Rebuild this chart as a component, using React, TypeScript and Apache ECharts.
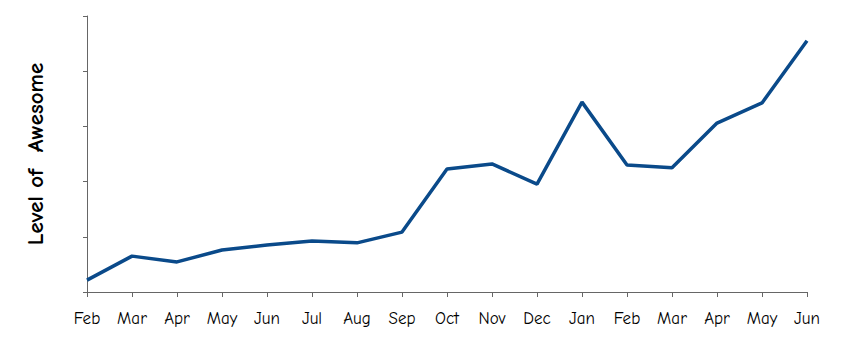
import React, { useEffect, useRef } from "react";
import * as echarts from "echarts";

const categories = ["Feb", "Mar", "Apr", "May", "Jun", "Jul", "Aug", "Sep", "Oct", "Nov", "Dec", "Jan", "Feb", "Mar", "Apr", "May", "Jun"];
const awesome = [4.3, 13, 10.9, 15.2, 17, 18.5, 17.8, 21.7, 44.6, 46.4, 39.1, 68.8, 46, 45, 61.2, 68.5, 91];
const yMin = 0;
const yMax = 100;
const yInterval = 20;

const FONT = "'Comic Sans MS', 'Comic Neue', 'DejaVu Sans', sans-serif";

export default function App() {
  const ref = useRef<HTMLDivElement>(null);
  useEffect(() => {
    if (!ref.current) return;
    const chart = echarts.init(ref.current, undefined, { renderer: "svg" });
    chart.setOption({
      animation: false,
      backgroundColor: "#ffffff",
      grid: { left: 87, right: 35, top: 16, bottom: 68 },
      xAxis: {
        type: "category",
        data: categories,
        boundaryGap: false,
        axisLine: { lineStyle: { color: "#666666", width: 1 } },
        axisTick: { alignWithLabel: true, length: 5, lineStyle: { color: "#666666" } },
        axisLabel: { color: "#000000", fontFamily: FONT, fontSize: 17, margin: 18, interval: 0 },
        splitLine: { show: false },
      },
      yAxis: {
        type: "value",
        min: yMin,
        max: yMax,
        interval: yInterval,
        name: "Level of  Awesome",
        nameLocation: "middle",
        nameGap: 40,
        nameTextStyle: { color: "#000000", fontFamily: FONT, fontSize: 23, fontWeight: "bold" },
        axisLine: { show: true, lineStyle: { color: "#666666", width: 1 } },
        axisTick: { show: true, length: 4, lineStyle: { color: "#666666" } },
        axisLabel: { show: false },
        splitLine: { show: false },
      },
      series: [
        {
          type: "line",
          data: awesome,
          showSymbol: false,
          symbol: "none",
          lineStyle: { color: "#0a4a8a", width: 3.5 },
        },
      ],
    });
    return () => chart.dispose();
  }, []);
  return <div ref={ref} style={{ position: "fixed", left: 0, top: 0, width: 842, height: 360 }} />;
}
